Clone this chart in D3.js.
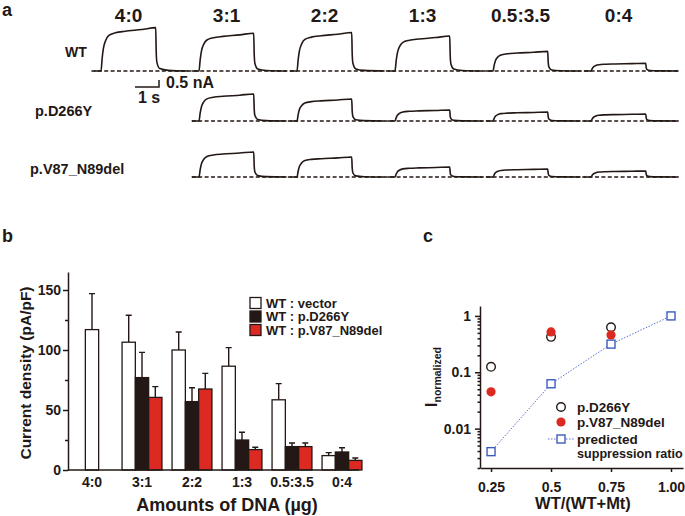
<!DOCTYPE html>
<html>
<head>
<meta charset="utf-8">
<script src="https://cdn.jsdelivr.net/npm/d3@7"></script>
<style>
  body { margin: 0; background: #fff; }
  svg { font-family: 'Liberation Sans', Arial, sans-serif; font-weight: bold; }
</style>
</head>
<body>
<svg id="fig" width="685" height="516"></svg>
<script>
// ---- panel a: current traces ----
const ratios = ['4:0', '3:1', '2:2', '1:3', '0.5:3.5', '0:4'];
const traceRows = ['WT', 'p.D266Y', 'p.V87_N89del'];
// current at end of pulse, nA (null = not recorded)
const wtCurrent = [3.1, 2.7, 2.75, 2.5, 1.4, 0.55];
const d266yCurrent = [null, 1.93, 1.57, 0.79, 0.64, 0.5];
const v87Current = [null, 1.79, 1.43, 0.71, 0.57, 0.43];
const waveTime = [-0.3, 0, 0.05, 0.1, 0.2, 0.33, 0.6, 1.0, 1.7, 2.28, 2.3, 2.33, 2.45, 2.8, 3.65];
const waveShape = [0, 0, 0.3, 0.52, 0.71, 0.82, 0.88, 0.915, 0.955, 1, 0.45, 0.2, 0.055, 0.015, 0];

// ---- panel b: current density ----
const barSeries = ['WT : vector', 'WT : p.D266Y', 'WT : p.V87_N89del'];
const vectorMean = [117, 106.5, 100, 86.5, 58.5, 12];
const vectorErr = [30, 22.5, 15, 15.5, 13.5, 2.5];
const d266yMean = [null, 77, 57, 25, 19.5, 15];
const d266yErr = [null, 21, 11.5, 6.5, 3, 3.5];
const v87Mean = [null, 60.5, 67.5, 17, 19.5, 8];
const v87Err = [null, 9, 13, 2, 3, 2];
const densityTicks = [0, 50, 100, 150];
const densityMinor = [25, 75, 125];

// ---- panel c: normalized current ----
const wtFraction = [0.25, 0.5, 0.75, 1.0];
const fractionLabels = ['0.25', '0.5', '0.75', '1.00'];
const d266yNorm = [0.125, 0.425, 0.63];
const v87Norm = [0.045, 0.52, 0.46];
const predictedNorm = [0.0039, 0.0625, 0.316, 1];
const normTicks = [1, 0.1, 0.01];

const ink = '#231815';
const red = '#dc2a22';
const blue = '#3c5cbc';

const svg = d3.select('#fig');

const label = (g, x, y, text, size, anchor = 'start') =>
  g.append('text')
    .attr('x', x)
    .attr('y', y)
    .attr('font-size', size)
    .attr('text-anchor', anchor)
    .attr('fill', ink)
    .text(text);

// ================= a =================
const drawTraces = () => {
  const g = svg.append('g');
  label(g, 2, 16, 'a', 18);

  const colX = d3.scaleBand().domain(ratios).range([72, 660]);
  const onset = r => colX(r) + 29;
  const t = d3.scaleLinear().domain([0, 1]).range([0, 24]); // 1 s
  const rowBase = [71, 121, 177];
  const currents = [wtCurrent, d266yCurrent, v87Current];

  ratios.forEach(r => label(g, onset(r) + t(1.15), 22, r, 19, 'middle'));

  label(g, 65, 57, traceRows[0], 14);
  label(g, 35, 116, traceRows[1], 14.5);
  label(g, 30, 174, traceRows[2], 14.5);

  currents.forEach((values, row) => {
    const iScale = d3.scaleLinear().domain([0, 1]).range([rowBase[row], rowBase[row] - 14]); // 1 nA
    const first = ratios.find((r, i) => values[i] != null);
    g.append('line')
      .attr('x1', onset(first) + t(row === 0 ? -0.4 : -0.3))
      .attr('x2', onset(ratios[ratios.length - 1]) + t(3.65))
      .attr('y1', rowBase[row])
      .attr('y2', rowBase[row])
      .attr('stroke', ink)
      .attr('stroke-width', 1.3)
      .attr('stroke-dasharray', '4,2.4');

    const line = d3.line()
      .x(d => d.x)
      .y(d => d.y)
      .curve(d3.curveMonotoneX);

    ratios.forEach((r, i) => {
      if (values[i] == null) return;
      const pts = waveTime.map((tt, k) => ({
        x: onset(r) + t(tt),
        y: iScale(values[i] * waveShape[k]),
      }));
      g.append('path')
        .attr('d', line(pts))
        .attr('fill', 'none')
        .attr('stroke', ink)
        .attr('stroke-width', 1.6);
    });

    if (row === 0) {
      // scale bar: 1 s, 0.5 nA
      const cx = 159, cy = 87;
      g.append('path')
        .attr('d', `M${cx - t(1)},${cy}H${cx}V${cy - (iScale(0) - iScale(0.5))}`)
        .attr('fill', 'none')
        .attr('stroke', ink)
        .attr('stroke-width', 1.5);
      label(g, 166, 88, '0.5 nA', 16);
      label(g, 138, 103, '1 s', 16);
    }
  });
};

// ================= b =================
const drawBars = () => {
  const g = svg.append('g');
  label(g, 2, 242, 'b', 18);

  const xB = d3.scaleBand().domain(ratios).range([67, 367]);
  const yB = d3.scaleLinear().domain([0, 165]).range([470, 272]);
  const barW = 13.3;
  const means = [vectorMean, d266yMean, v87Mean];
  const errs = [vectorErr, d266yErr, v87Err];
  const fills = ['#fff', ink, red];

  ratios.forEach((r, i) => {
    const present = means.map((m, s) => s).filter(s => means[s][i] != null);
    present.forEach((s, k) => {
      const cx = xB(r) + xB.bandwidth() / 2 + (k - (present.length - 1) / 2) * barW;
      const top = yB(means[s][i] + errs[s][i]);
      g.append('path')
        .attr('d', `M${cx},${yB(means[s][i])}V${top}M${cx - 3},${top}H${cx + 3}`)
        .attr('stroke', ink)
        .attr('stroke-width', 1.4)
        .attr('fill', 'none');
      g.append('rect')
        .attr('x', cx - barW / 2)
        .attr('y', yB(means[s][i]))
        .attr('width', barW)
        .attr('height', yB(0) - yB(means[s][i]))
        .attr('fill', fills[s])
        .attr('stroke', ink)
        .attr('stroke-width', 1.3);
    });
  });

  const yAxis = g.append('g')
    .attr('transform', 'translate(68,0)')
    .call(d3.axisLeft(yB).tickValues(densityTicks).tickSize(5).tickSizeOuter(0).tickPadding(2));
  g.append('g')
    .attr('transform', 'translate(68,0)')
    .call(d3.axisLeft(yB).tickValues(densityMinor).tickSize(3).tickFormat(''))
    .call(a => a.select('.domain').remove());
  yAxis.selectAll('text').attr('font-size', 14).attr('font-family', null).attr('fill', ink);

  const xAxis = g.append('g')
    .attr('transform', 'translate(0,470)')
    .call(d3.axisBottom(xB).tickSize(0).tickPadding(7));
  xAxis.select('.domain').remove();
  xAxis.selectAll('text').attr('font-size', 14).attr('font-family', null).attr('fill', ink);
  g.append('line')
    .attr('x1', 68).attr('x2', 359)
    .attr('y1', 470).attr('y2', 470)
    .attr('stroke', ink).attr('stroke-width', 1.5);

  g.selectAll('.domain, .tick line').attr('stroke', ink).attr('stroke-width', 1.5);

  label(g, 227, 511, 'Amounts of DNA (µg)', 18, 'middle');
  label(g, 0, 0, 'Current density (pA/pF)', 15.5, 'middle')
    .attr('transform', 'translate(31,373) rotate(-90)');

  // legend
  barSeries.forEach((name, s) => {
    const y = 303 + s * 13.5;
    g.append('rect')
      .attr('x', 250).attr('y', y - 5.5)
      .attr('width', 11).attr('height', 11)
      .attr('fill', fills[s]).attr('stroke', ink).attr('stroke-width', 1.3);
    label(g, 266, y + 4.8, name, 13);
  });
};

// ================= c =================
const drawNormalized = () => {
  const g = svg.append('g');
  label(g, 423, 242, 'c', 18);

  const xC = d3.scaleLinear().domain([0.204, 1.05]).range([480, 683]);
  const yC = d3.scaleLog().domain([0.002, 1.5]).range([468, 306]);

  const yAxis = g.append('g')
    .attr('transform', 'translate(480,0)')
    .call(d3.axisLeft(yC).tickValues(normTicks).tickFormat(d3.format('')).tickSize(5).tickSizeOuter(0).tickPadding(4));
  yAxis.selectAll('text').attr('font-size', 14).attr('font-family', null).attr('fill', ink);
  const minor = yC.ticks().filter(v => !normTicks.some(m => Math.abs(m - v) < 1e-9));
  g.append('g')
    .attr('transform', 'translate(480,0)')
    .call(d3.axisLeft(yC).tickValues(minor).tickSize(2.5).tickFormat(''))
    .call(a => a.select('.domain').remove());

  const xAxis = g.append('g')
    .attr('transform', 'translate(0,468)')
    .call(d3.axisBottom(xC).tickValues(wtFraction).tickFormat((d, i) => fractionLabels[i]).tickSize(4).tickSizeOuter(0).tickPadding(10));
  xAxis.selectAll('text').attr('font-size', 14).attr('font-family', null).attr('fill', ink);

  g.selectAll('.domain, .tick line').attr('stroke', ink).attr('stroke-width', 1.5);

  // predicted line + squares
  const predicted = wtFraction.map((f, i) => [xC(f), yC(predictedNorm[i])]);
  g.append('path')
    .attr('d', d3.line()(predicted))
    .attr('fill', 'none')
    .attr('stroke', '#5a6fd6')
    .attr('stroke-width', 1)
    .attr('stroke-dasharray', '1.5,1.5');

  const square = (x, y) =>
    g.append('rect')
      .attr('x', x - 4).attr('y', y - 4)
      .attr('width', 8).attr('height', 8)
      .attr('fill', '#fff').attr('stroke', blue).attr('stroke-width', 1.4);
  predicted.forEach(p => square(p[0], p[1]));

  d266yNorm.forEach((v, i) =>
    g.append('circle')
      .attr('cx', xC(wtFraction[i])).attr('cy', yC(v)).attr('r', 4.3)
      .attr('fill', 'none').attr('stroke', ink).attr('stroke-width', 1.4));
  v87Norm.forEach((v, i) =>
    g.append('circle')
      .attr('cx', xC(wtFraction[i])).attr('cy', yC(v)).attr('r', 4.6)
      .attr('fill', red));

  // legend
  g.append('circle').attr('cx', 561).attr('cy', 407).attr('r', 4.3)
    .attr('fill', 'none').attr('stroke', ink).attr('stroke-width', 1.4);
  label(g, 577, 412, 'p.D266Y', 13.5);
  g.append('circle').attr('cx', 561).attr('cy', 422).attr('r', 4.6).attr('fill', red);
  label(g, 577, 427, 'p.V87_N89del', 13.5);
  g.append('line').attr('x1', 548).attr('x2', 574).attr('y1', 439).attr('y2', 439)
    .attr('stroke', '#5a6fd6').attr('stroke-width', 1).attr('stroke-dasharray', '1.5,1.5');
  square(561, 439);
  label(g, 577, 444, 'predicted', 13.5);
  label(g, 577, 458, 'suppression ratio', 12.6);

  label(g, 583, 509, 'WT/(WT+Mt)', 16.5, 'middle');
  const yl = label(g, 0, 0, 'I', 16, 'middle')
    .attr('transform', 'translate(437,377) rotate(-90)');
  yl.append('tspan').attr('font-size', 10.5).attr('dy', 4).text('normalized');
};

drawTraces();
drawBars();
drawNormalized();
</script>
</body>
</html>
